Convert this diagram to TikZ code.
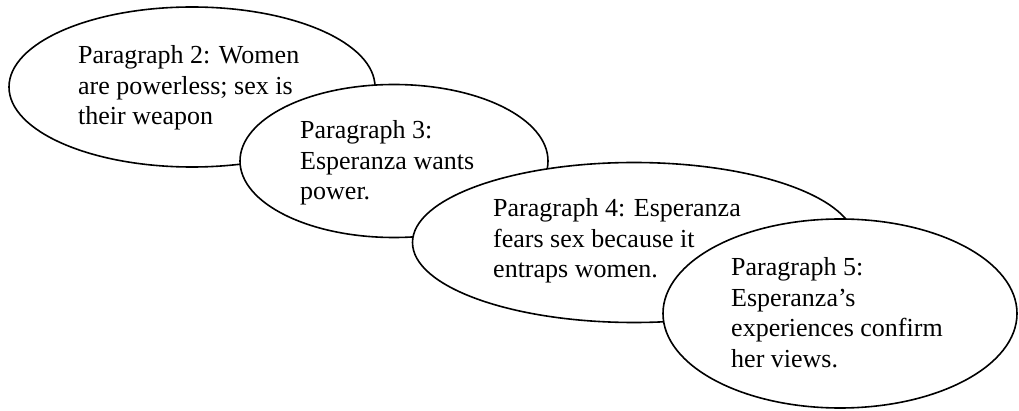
\documentclass[tikz,border=0pt]{standalone}
\usepackage{fontspec}
\setmainfont{Liberation Serif}
\usetikzlibrary{shapes.geometric}
\begin{document}
\begin{tikzpicture}[x=1pt,y=-1pt,
  bubble/.style={draw=black,fill=white,ellipse,line width=1.6pt,inner sep=0pt},
  txt/.style={anchor=base west,align=left,inner sep=0pt,font=\fontsize{26}{30.5}\selectfont}]
\useasboundingbox (0,0) rectangle (1019,411);
\node[bubble,minimum width=366pt,minimum height=160pt] (e1) at (192,87) {};
\node[txt] (t1) at (78,125) {Paragraph 2: Women\\are powerless; sex is\\their weapon};
\node[bubble,minimum width=308pt,minimum height=153pt] (e2) at (394,161) {};
\node[txt] (t2) at (300,200) {Paragraph 3:\\Esperanza wants\\power.};
\node[bubble,minimum width=443pt,minimum height=160pt] (e3) at (634,242.5) {};
\node[txt] (t3) at (493,278) {Paragraph 4: Esperanza\\fears sex because it\\entraps women.};
\node[bubble,minimum width=354pt,minimum height=189pt] (e4) at (840,313.5) {};
\node[txt] (t4) at (731,367) {Paragraph 5:\\Esperanza’s\\experiences confirm\\her views.};
\end{tikzpicture}
\end{document}
